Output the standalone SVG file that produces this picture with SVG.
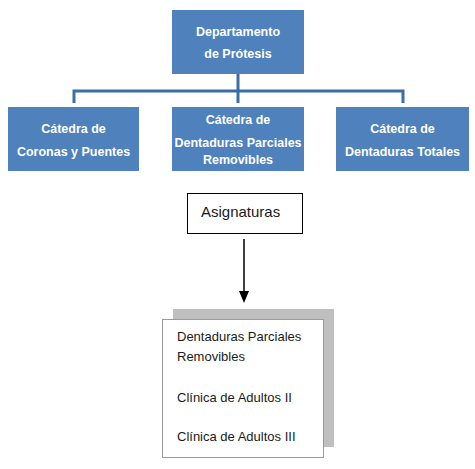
<svg xmlns="http://www.w3.org/2000/svg" width="475" height="469" viewBox="0 0 475 469">
<style>
.blue{fill:#4f81bd;}
.wt{fill:#ffffff;font-family:"Liberation Sans",Arial,sans-serif;font-weight:bold;font-size:12.5px;text-anchor:middle;}
.bt{fill:#1a1a1a;font-family:"Liberation Sans",Arial,sans-serif;font-size:13px;}
.conn{fill:none;stroke:#3b6ea5;stroke-width:3;}
</style>
<rect width="475" height="469" fill="#ffffff"/>
<g id="connectors">
<path class="conn" d="M238,74 V103"/>
<path class="conn" d="M74,103 V91 H403 V103"/>
<path d="M244,239 V292" stroke="#000" stroke-width="1.5" fill="none"/>
<polygon points="239,291 249,291 244,303" fill="#000"/>
</g>
<g id="departamento">
<rect class="blue" x="172" y="10" width="132" height="64"/>
<text class="wt" x="238" y="36">Departamento</text>
<text class="wt" x="238" y="58">de Prótesis</text>
</g>
<g id="coronas">
<rect class="blue" x="8" y="107" width="131" height="64"/>
<text class="wt" x="73.5" y="133">Cátedra de</text>
<text class="wt" x="73.5" y="156">Coronas y Puentes</text>
</g>
<g id="parciales">
<rect class="blue" x="172" y="107" width="132" height="64"/>
<text class="wt" x="238" y="124">Cátedra de</text>
<text class="wt" x="238" y="147">Dentaduras Parciales</text>
<text class="wt" x="238" y="164">Removibles</text>
</g>
<g id="totales">
<rect class="blue" x="336" y="107" width="133" height="64"/>
<text class="wt" x="402.5" y="133">Cátedra de</text>
<text class="wt" x="402.5" y="156">Dentaduras Totales</text>
</g>
<g id="asignaturas">
<rect x="187.5" y="193.5" width="115" height="40" fill="#fff" stroke="#000" stroke-width="1"/>
<text class="bt" x="201" y="217" style="font-size:15px">Asignaturas</text>
</g>
<g id="lista">
<rect x="173" y="309" width="161" height="138" fill="#bfbfbf"/>
<rect x="162.5" y="319.5" width="161" height="138" fill="#fff" stroke="#9a9a9a" stroke-width="1"/>
<text class="bt" x="177" y="341">Dentaduras Parciales</text>
<text class="bt" x="177" y="361">Removibles</text>
<text class="bt" x="177" y="402">Clínica de Adultos II</text>
<text class="bt" x="177" y="441">Clínica de Adultos III</text>
</g>
</svg>
